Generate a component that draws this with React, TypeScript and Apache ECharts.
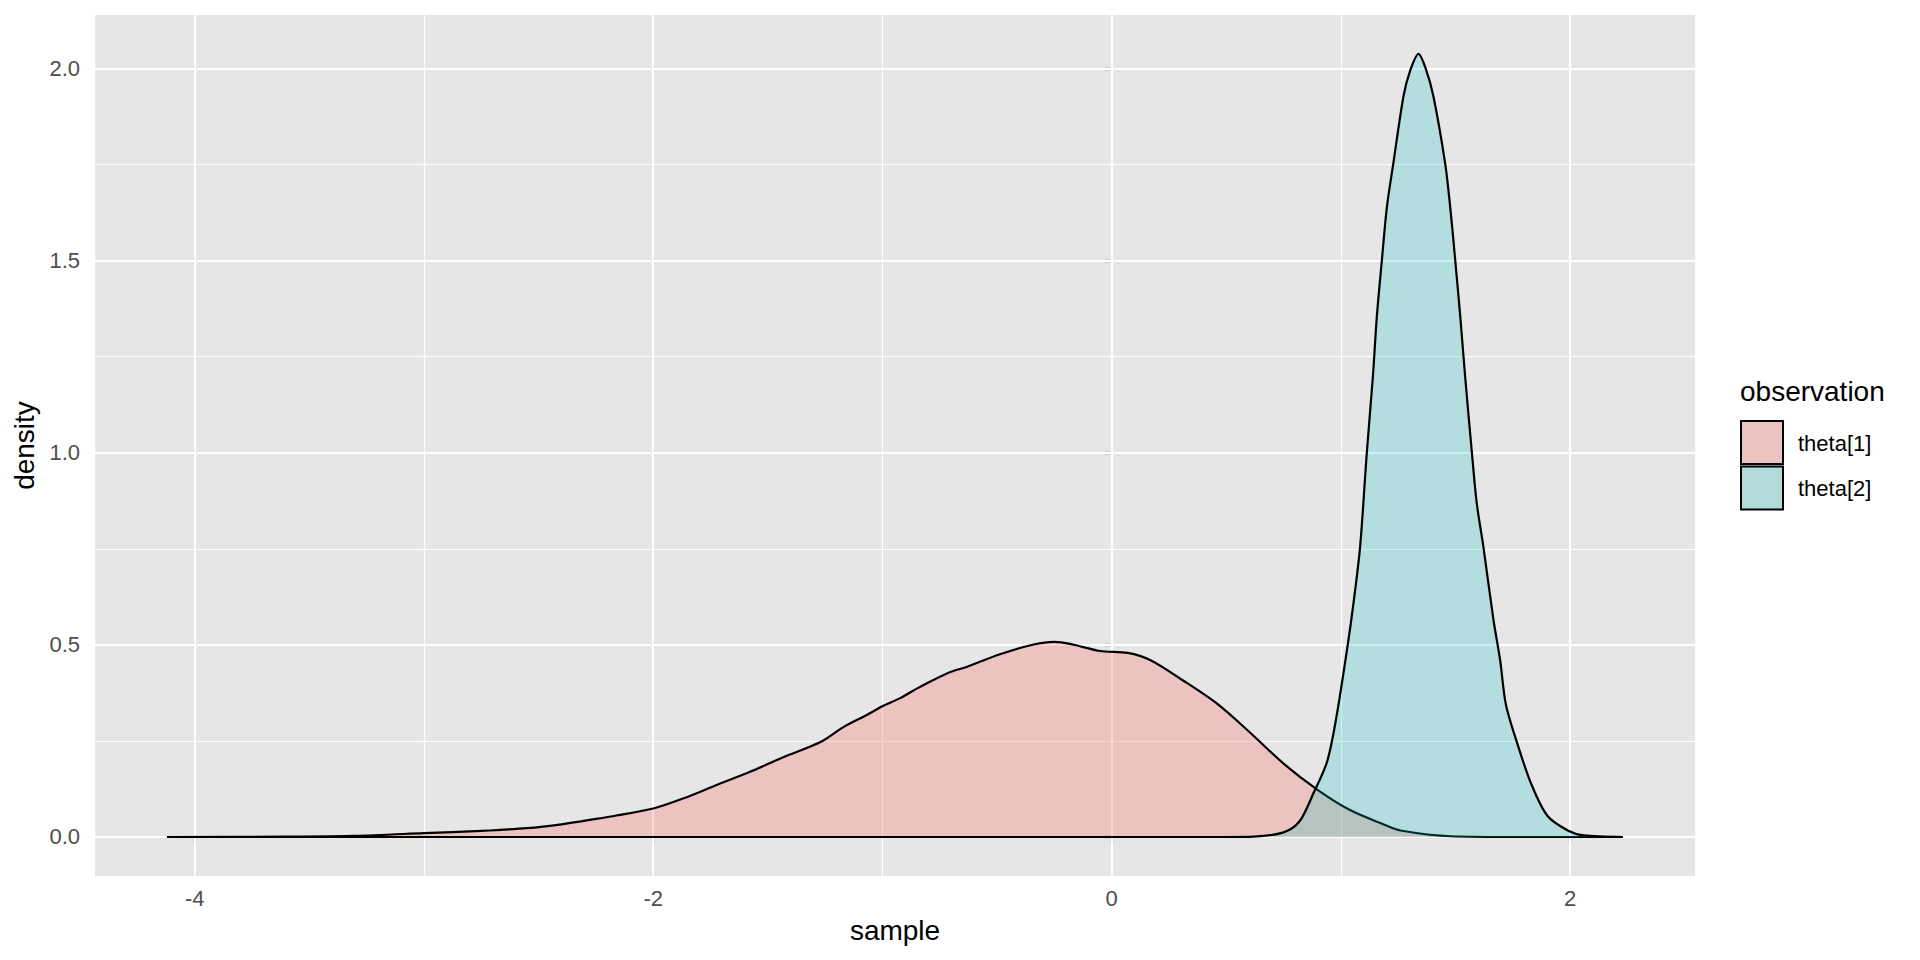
import React, { useEffect, useRef } from "react";
import * as echarts from "echarts";

const seriesNames = ["theta[1]", "theta[2]"];
const fillColors = ["rgba(248,118,109,0.3)", "rgba(0,191,196,0.22)"];
const legendKeyColors = ["#EBC4C2", "#B2DADA"];

const theta1X = [-4.12, -3.6, -3.3, -3.0, -2.75, -2.55, -2.4, -2.25, -2.16, -2.0, -1.87, -1.72, -1.58, -1.43, -1.27, -1.17, -1.07, -1.0, -0.92, -0.85, -0.78, -0.7, -0.63, -0.49, -0.34, -0.25, -0.17, -0.05, 0.07, 0.17, 0.31, 0.46, 0.6, 0.75, 0.9, 1.04, 1.19, 1.26, 1.48, 1.8, 2.23];
const theta1Y = [0, 0.001, 0.003, 0.01, 0.016, 0.023, 0.033, 0.047, 0.056, 0.074, 0.1, 0.136, 0.169, 0.208, 0.247, 0.286, 0.317, 0.34, 0.362, 0.386, 0.408, 0.43, 0.443, 0.475, 0.501, 0.508, 0.501, 0.484, 0.479, 0.46, 0.408, 0.347, 0.274, 0.191, 0.122, 0.07, 0.032, 0.017, 0.002, 0, 0];

const theta2X = [-4.12, 0.5, 0.62, 0.75, 0.82, 0.88, 0.94, 0.98, 1.03, 1.055, 1.084, 1.113, 1.14, 1.157, 1.179, 1.201, 1.229, 1.273, 1.3, 1.339, 1.37, 1.404, 1.455, 1.477, 1.499, 1.521, 1.542, 1.572, 1.593, 1.622, 1.666, 1.695, 1.72, 1.77, 1.83, 1.9, 1.99, 2.06, 2.23];
const theta2Y = [0, 0, 0.001, 0.012, 0.041, 0.113, 0.196, 0.31, 0.5, 0.608, 0.755, 0.998, 1.2, 1.354, 1.501, 1.64, 1.753, 1.927, 1.99, 2.038, 2.0, 1.927, 1.753, 1.64, 1.501, 1.354, 1.2, 0.998, 0.868, 0.755, 0.564, 0.46, 0.345, 0.243, 0.139, 0.056, 0.017, 0.004, 0];

const xMajor = [-4, -2, 0, 2];
const xMinor = [-3, -1, 1];
const yMajor = [0, 0.5, 1, 1.5, 2];
const yMinor = [0.25, 0.75, 1.25, 1.75];
const yTickLabels = ["0.0", "0.5", "1.0", "1.5", "2.0"];

const X_MIN = -4.435;
const X_MAX = 2.545;
const Y_MIN = -0.1015;
const Y_MAX = 2.139;

const FONT = "Liberation Sans, Arial, Helvetica, sans-serif";

export default function App() {
  const ref = useRef<HTMLDivElement>(null);
  useEffect(() => {
    if (!ref.current) return;
    const chart = echarts.init(ref.current, null, { renderer: "svg" });
    const pairs = (xs: number[], ys: number[]) => xs.map((x, i) => [x, ys[i]]);
    const gridLines = [
      ...xMinor.map((v) => ({ xAxis: v, lineStyle: { width: 1.1 } })),
      ...yMinor.map((v) => ({ yAxis: v, lineStyle: { width: 1.1 } })),
      ...xMajor.map((v) => ({ xAxis: v, lineStyle: { width: 2.2 } })),
      ...yMajor.map((v) => ({ yAxis: v, lineStyle: { width: 2.2 } })),
    ];
    const densitySeries = [pairs(theta1X, theta1Y), pairs(theta2X, theta2Y)].map((d, i) => ({
      name: seriesNames[i],
      type: "line",
      data: d,
      smooth: 0.3,
      showSymbol: false,
      symbol: "none",
      lineStyle: { color: "#000000", width: 2.2, join: "round" },
      areaStyle: { color: fillColors[i], origin: 0, opacity: 1 },
      z: 10 + i,
      silent: true,
    }));
    const legendGraphics: any[] = [
      {
        type: "text",
        left: 1740,
        top: 377,
        style: { text: "observation", fontSize: 28, fontFamily: FONT, fill: "#000000" },
      },
    ];
    seriesNames.forEach((n, i) => {
      legendGraphics.push({
        type: "rect",
        shape: { x: 1741, y: 421 + i * 45.5, width: 42, height: 43 },
        style: { fill: legendKeyColors[i], stroke: "#000000", lineWidth: 2 },
      });
      legendGraphics.push({
        type: "text",
        x: 1798,
        y: 443 + i * 45.5,
        style: {
          text: n,
          fontSize: 22,
          fontFamily: FONT,
          fill: "#000000",
          verticalAlign: "middle",
          align: "left",
        },
      });
    });
    chart.setOption({
      animation: false,
      backgroundColor: "#FFFFFF",
      grid: {
        left: 95,
        top: 15,
        width: 1600,
        height: 861,
        show: true,
        backgroundColor: "#E6E6E6",
        borderWidth: 0,
      },
      xAxis: {
        type: "value",
        min: X_MIN,
        max: X_MAX,
        name: "sample",
        nameLocation: "middle",
        nameGap: 40,
        nameTextStyle: { fontSize: 28, fontFamily: FONT, color: "#000000" },
        axisLine: { show: false },
        splitLine: { show: false },
        axisTick: { show: true, length: 7, customValues: xMajor, lineStyle: { color: "#333333", width: 2.2 } },
        axisLabel: {
          customValues: xMajor,
          fontSize: 22,
          fontFamily: FONT,
          color: "#4D4D4D",
          margin: 11,
          formatter: (v: number) => String(v),
        },
      },
      yAxis: {
        type: "value",
        min: Y_MIN,
        max: Y_MAX,
        name: "density",
        nameLocation: "middle",
        nameGap: 54,
        nameTextStyle: { fontSize: 28, fontFamily: FONT, color: "#000000" },
        axisLine: { show: false },
        splitLine: { show: false },
        axisTick: { show: true, length: 7, customValues: yMajor, lineStyle: { color: "#333333", width: 2.2 } },
        axisLabel: {
          customValues: yMajor,
          fontSize: 22,
          fontFamily: FONT,
          color: "#4D4D4D",
          margin: 15,
          formatter: (v: number) => {
            const idx = yMajor.findIndex((m) => Math.abs(m - v) < 1e-9);
            return idx >= 0 ? yTickLabels[idx] : "";
          },
        },
      },
      series: [
        {
          type: "line",
          data: [],
          silent: true,
          z: 1,
          markLine: {
            z: 1,
            zlevel: 0,
            silent: true,
            symbol: ["none", "none"],
            label: { show: false },
            lineStyle: { color: "#FFFFFF", type: "solid" },
            emphasis: { disabled: true },
            data: gridLines,
            animation: false,
          },
        },
        ...densitySeries,
      ],
      graphic: legendGraphics,
    });
    return () => chart.dispose();
  }, []);
  return (
    <div
      ref={ref}
      style={{ position: "fixed", left: 0, top: 0, width: 1920, height: 960 }}
    />
  );
}
